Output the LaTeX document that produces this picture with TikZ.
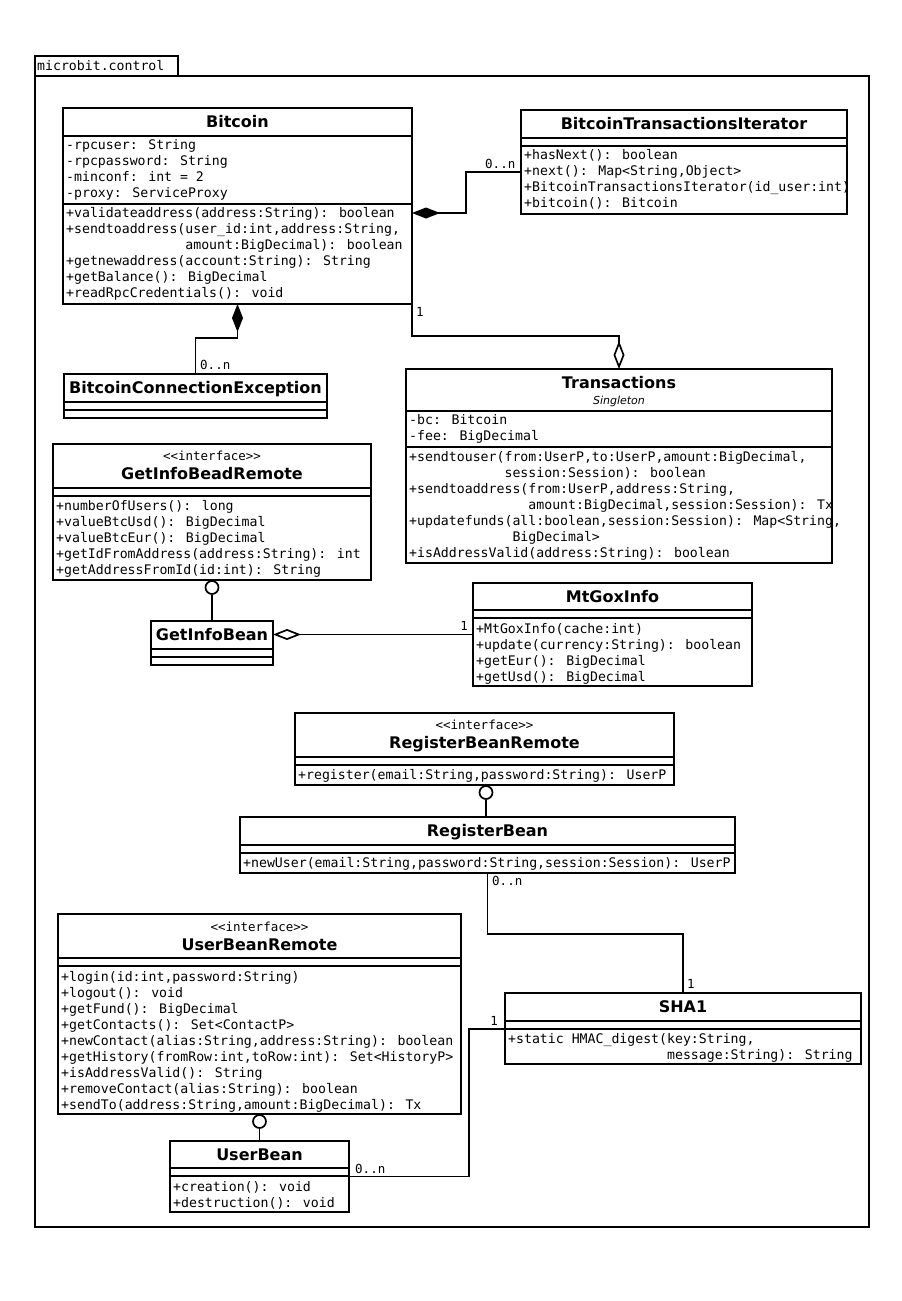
\documentclass[tikz,border=0pt]{standalone}
\usepackage{fontspec}
\usetikzlibrary{arrows.meta}
\newfontfamily\monof{DejaVu Sans Mono}
\newfontfamily\sansf{DejaVu Sans}
% indentation by n character cells of the current monospaced font
\newcommand\ind[1]{\hspace*{#1\fontcharwd\font`\0}}

\tikzset{
  x=1pt, y=-1pt,
  classbox/.style={draw, line width=1.8pt, inner sep=0pt, outer sep=0pt, anchor=north west},
  sepline/.style={line width=1.8pt},
  conn/.style={line width=1.7pt},
  mem/.style={anchor=base west, inner sep=0pt, font=\monof\fontsize{13.2}{16}\selectfont},
  mult/.style={inner sep=0pt, font=\monof\fontsize{12.5}{15}\selectfont},
  ttl/.style={anchor=base, inner sep=0pt, font=\sansf\bfseries\fontsize{16}{19}\selectfont},
  stereo/.style={anchor=base, inner sep=0pt, font=\monof\fontsize{12.5}{15}\selectfont},
  lolli/.style={circle, draw, fill=white, line width=1.7pt, minimum size=13pt, inner sep=0pt},
  comp/.tip={Diamond[length=28pt,width=11pt]},
  agg/.tip={Diamond[open,length=28pt,width=11pt]},
}

% class box: name, x1, y1, x2, y2, compartment separator rows
\newcommand\umlclass[6]{%
  \node[classbox, minimum width={#4pt-#2pt}, minimum height={#5pt-#3pt}] (#1) at (#2,#3) {};
  \foreach \s in {#6} {\draw[sepline] (#2,\s) -- (#4,\s);}
}
% list of member lines: name prefix, x, first baseline, lines
\newcommand\members[4]{%
  \foreach \t [count=\i] in {#4} {\node[mem] (#1-\i) at (#2,{#3+16*(\i-1)}) {\t};}
}

\begin{document}
\begin{tikzpicture}
\useasboundingbox (0,0) rectangle (902,1301);

% package frame
\node[classbox, minimum width=143pt, minimum height=20pt] (pkgtab) at (35,56) {};
\node[classbox, minimum width=834pt, minimum height=1151pt] (pkg) at (35,76) {};
\node[mem] (pkg-l) at (37,70.5) {microbit.control};

% Bitcoin
\umlclass{bitcoin}{63}{108}{412}{304}{136,204}
\node[ttl] (bitcoin-t) at (237.5,127.5) {Bitcoin};
\members{bitcoin-a}{66}{149.5}{{-rpcuser: String},{-rpcpassword: String},{-minconf: int = 2},{-proxy: ServiceProxy}}
\members{bitcoin-m}{66}{217.5}{{+validateaddress(address:String): boolean},{+sendtoaddress(user\_id:int,address:String,},{\ind{15}amount:BigDecimal): boolean},{+getnewaddress(account:String): String},{+getBalance(): BigDecimal},{+readRpcCredentials(): void}}

% BitcoinTransactionsIterator
\umlclass{iter}{521}{110}{847}{214}{138,146}
\node[ttl] (iter-t) at (684,129.5) {BitcoinTransactionsIterator};
\members{iter-m}{524}{159.5}{{+hasNext(): boolean},{+next(): Map<String,Object>},{+BitcoinTransactionsIterator(id\_user:int)},{+bitcoin(): Bitcoin}}

% BitcoinConnectionException
\umlclass{bce}{64}{374}{327}{418}{402,410}
\node[ttl] (bce-t) at (195.5,393.5) {BitcoinConnectionException};

% Transactions
\umlclass{trans}{406}{369}{832}{563}{411,447}
\node[ttl] (trans-t) at (619,388.5) {Transactions};
\node[anchor=base, inner sep=0pt, font=\sansf\itshape\fontsize{11}{13}\selectfont] (trans-s) at (619,404) {Singleton};
\members{trans-a}{409}{424.5}{{-bc: Bitcoin},{-fee: BigDecimal}}
\members{trans-m}{409}{461.5}{{+sendtouser(from:UserP,to:UserP,amount:BigDecimal,},{\ind{12}session:Session): boolean},{+sendtoaddress(from:UserP,address:String,},{\ind{15}amount:BigDecimal,session:Session): Tx},{+updatefunds(all:boolean,session:Session): Map<String,},{\ind{13}BigDecimal>},{+isAddressValid(address:String): boolean}}

% GetInfoBeadRemote
\umlclass{gibr}{53}{444}{371}{580}{488,496}
\node[stereo] (gibr-s) at (212,460) {<<interface>>};
\node[ttl] (gibr-t) at (212,479.5) {GetInfoBeadRemote};
\members{gibr-m}{56}{510.5}{{+numberOfUsers(): long},{+valueBtcUsd(): BigDecimal},{+valueBtcEur(): BigDecimal},{+getIdFromAddress(address:String): int},{+getAddressFromId(id:int): String}}

% GetInfoBean
\umlclass{gib}{151}{621}{273}{665}{649,657}
\node[ttl] (gib-t) at (212,640.5) {GetInfoBean};

% MtGoxInfo
\umlclass{mtgox}{473}{583}{752}{686}{610,618}
\node[ttl] (mtgox-t) at (612.5,602.5) {MtGoxInfo};
\members{mtgox-m}{476}{633.5}{{+MtGoxInfo(cache:int)},{+update(currency:String): boolean},{+getEur(): BigDecimal},{+getUsd(): BigDecimal}}

% RegisterBeanRemote
\umlclass{rbr}{295}{713}{674}{785}{757,765}
\node[stereo] (rbr-s) at (484.5,729) {<<interface>>};
\node[ttl] (rbr-t) at (484.5,748.5) {RegisterBeanRemote};
\members{rbr-m}{298}{779.5}{{+register(email:String,password:String): UserP}}

% RegisterBean
\umlclass{rb}{240}{817}{735}{873}{845,853}
\node[ttl] (rb-t) at (487.5,836.5) {RegisterBean};
\members{rb-m}{243}{867.5}{{+newUser(email:String,password:String,session:Session): UserP}}

% UserBeanRemote
\umlclass{ubr}{58}{914}{461}{1114}{958,966}
\node[stereo] (ubr-s) at (259.5,931) {<<interface>>};
\node[ttl] (ubr-t) at (259.5,950.5) {UserBeanRemote};
\members{ubr-m}{61}{981.5}{{+login(id:int,password:String)},{+logout(): void},{+getFund(): BigDecimal},{+getContacts(): Set<ContactP>},{+newContact(alias:String,address:String): boolean},{+getHistory(fromRow:int,toRow:int): Set<HistoryP>},{+isAddressValid(): String},{+removeContact(alias:String): boolean},{+sendTo(address:String,amount:BigDecimal): Tx}}

% UserBean
\umlclass{ub}{170}{1141}{349}{1212}{1168,1176}
\node[ttl] (ub-t) at (259.5,1160.5) {UserBean};
\members{ub-m}{173}{1191.5}{{+creation(): void},{+destruction(): void}}

% SHA1
\umlclass{sha}{505}{993}{861}{1064}{1021,1029}
\node[ttl] (sha-t) at (683,1012.5) {SHA1};
\members{sha-m}{508}{1043.5}{{+static HMAC\_digest(key:String,},{\ind{20}message:String): String}}

% ---- connectors ----
% Bitcoin <>-- BitcoinTransactionsIterator
\coordinate (k1) at (466,213);
\coordinate (k2) at (466,172);
\draw[conn, comp-] (bitcoin.east |- k1) -- (k1) -- (k2) -- (iter.west |- k2);
\node[mult, anchor=base west] (m1) at (485,168) {0..n};

% Bitcoin <>-- BitcoinConnectionException
\coordinate (k3) at (237.5,338);
\coordinate (k4) at (195.5,338);
\draw[conn, comp-] (bitcoin.south) -- (k3) -- (k4) -- (bce.north);
\node[mult, anchor=base west] (m2) at (200,369) {0..n};

% Bitcoin --<> Transactions
\coordinate (k5) at (412,336);
\coordinate (k6) at (619,336);
\draw[conn, -agg] (bitcoin.south east) -- (k5) -- (k6) -- (trans.north);
\node[mult, anchor=base west] (m3) at (416,316) {1};

% interface realisations (lollipops)
\node[lolli] (l1) at (212,587.5) {};
\draw[conn] (l1) -- (gib.north);
\node[lolli] (l2) at (486,792.5) {};
\draw[conn] (l2) -- (l2 |- rb.north);
\node[lolli] (l3) at (259.5,1121.5) {};
\draw[conn] (l3) -- (ub.north);

% GetInfoBean <>-- MtGoxInfo
\draw[conn, -agg] (mtgox.west) -- (gib.east |- mtgox.west);
\node[mult, anchor=base east] (m4) at (468,630) {1};

% RegisterBean -- SHA1
\coordinate (k7) at (487.5,934);
\coordinate (k8) at (683,934);
\draw[conn] (rb.south) -- (k7) -- (k8) -- (sha.north);
\node[mult, anchor=base west] (m5) at (492,885) {0..n};
\node[mult, anchor=base west] (m6) at (687,988) {1};

% UserBean -- SHA1
\coordinate (k9) at (469,1176.5);
\coordinate (k10) at (469,1029);
\draw[conn] (ub.east) -- (k9) -- (k10) -- (sha.west |- k10);
\node[mult, anchor=base west] (m7) at (355,1173) {0..n};
\node[mult, anchor=base east] (m8) at (498,1025) {1};
\end{tikzpicture}
\end{document}
